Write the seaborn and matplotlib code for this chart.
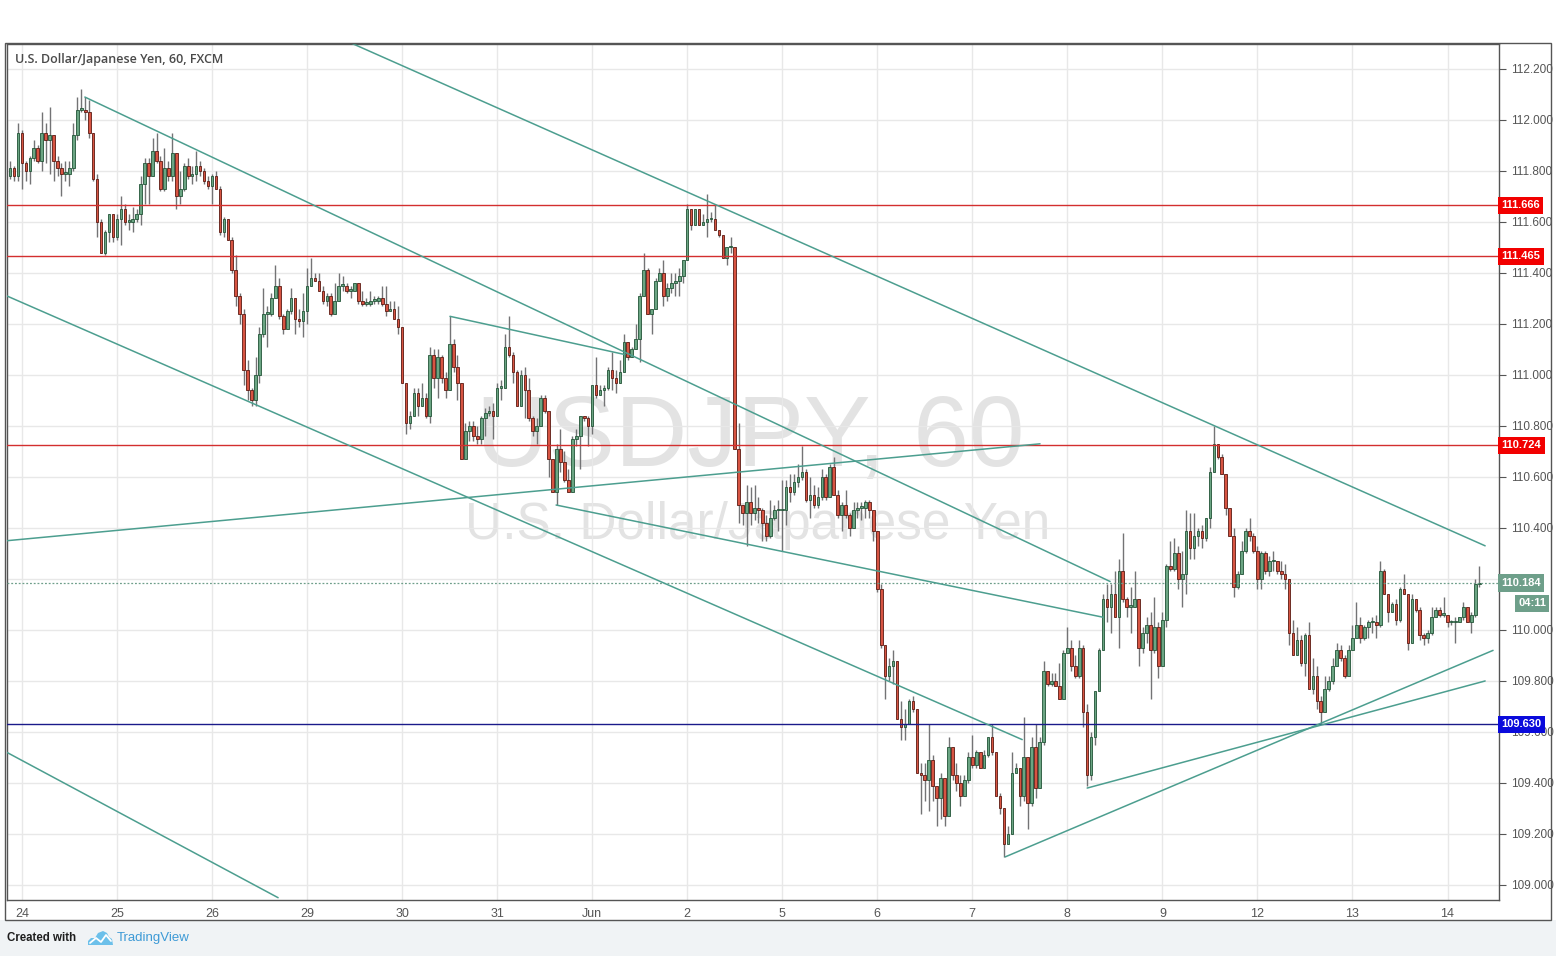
import matplotlib
matplotlib.use("Agg")
import matplotlib.pyplot as plt
import matplotlib.transforms as mtransforms
from matplotlib.patches import Rectangle, Polygon
from matplotlib.lines import Line2D
import numpy as np
import pandas as pd
import seaborn as sns

# ---- data (USDJPY, 1h candles, FXCM) ----
day_labels = ["24", "25", "26", "29", "30", "31", "Jun", "2", "5", "6", "7", "8", "9", "12", "13", "14"]
first_day_bar = 3          # bar index where the "24" session starts
bars_per_day = 24

first_open = 111.78
closes = [
    111.81, 111.78, 111.95, 111.83, 111.80, 111.85, 111.89, 111.84, 111.95, 111.92, 111.94, 111.84,
    111.81, 111.79, 111.79, 111.81, 111.94, 112.04, 112.04, 112.03, 111.95, 111.77, 111.60, 111.48,
    111.56, 111.63, 111.54, 111.61, 111.65, 111.60, 111.60, 111.61, 111.63, 111.75, 111.83, 111.78,
    111.88, 111.84, 111.73, 111.81, 111.78, 111.87, 111.70, 111.73, 111.82, 111.78, 111.79, 111.82,
    111.80, 111.76, 111.74, 111.78, 111.73, 111.56, 111.61, 111.53, 111.41, 111.31, 111.24, 111.02,
    110.94, 110.90, 111.00, 111.16, 111.24, 111.24, 111.30, 111.35, 111.23, 111.18, 111.25, 111.30,
    111.22, 111.21, 111.25, 111.35, 111.38, 111.37, 111.33, 111.29, 111.31, 111.24, 111.29, 111.35,
    111.35, 111.33, 111.33, 111.36, 111.29, 111.28, 111.28, 111.29, 111.29, 111.30, 111.28, 111.25,
    111.26, 111.22, 111.19, 110.97, 110.81, 110.84, 110.93, 110.88, 110.91, 110.84, 111.08, 110.99,
    111.07, 110.99, 110.94, 111.12, 111.03, 110.97, 110.67, 110.78, 110.80, 110.76, 110.75, 110.83,
    110.85, 110.86, 110.84, 110.95, 110.95, 111.11, 111.08, 111.01, 110.88, 111.00, 110.94, 110.83,
    110.78, 110.80, 110.91, 110.86, 110.67, 110.54, 110.71, 110.66, 110.59, 110.54, 110.75, 110.76,
    110.84, 110.83, 110.80, 110.96, 110.92, 110.94, 110.95, 111.02, 110.99, 110.97, 111.01, 111.13,
    111.07, 111.10, 111.14, 111.31, 111.41, 111.24, 111.26, 111.37, 111.40, 111.31, 111.34, 111.36,
    111.37, 111.39, 111.45, 111.65, 111.59, 111.65, 111.59, 111.60, 111.61, 111.61, 111.57, 111.55,
    111.46, 111.50, 111.50, 110.71, 110.49, 110.46, 110.50, 110.46, 110.48, 110.47, 110.42, 110.37,
    110.44, 110.47, 110.47, 110.47, 110.56, 110.54, 110.58, 110.60, 110.62, 110.51, 110.53, 110.49,
    110.52, 110.60, 110.52, 110.64, 110.53, 110.45, 110.49, 110.45, 110.40, 110.47, 110.48, 110.48,
    110.50, 110.47, 110.39, 110.16, 109.94, 109.82, 109.86, 109.88, 109.65, 109.62, 109.63, 109.72,
    109.69, 109.44, 109.43, 109.41, 109.49, 109.39, 109.34, 109.42, 109.27, 109.54, 109.43, 109.40,
    109.35, 109.41, 109.50, 109.47, 109.52, 109.46, 109.51, 109.58, 109.52, 109.35, 109.30, 109.16,
    109.20, 109.44, 109.46, 109.35, 109.50, 109.32, 109.54, 109.38, 109.56, 109.84, 109.79, 109.80,
    109.78, 109.73, 109.91, 109.93, 109.86, 109.82, 109.93, 109.68, 109.43, 109.58, 109.76, 109.92,
    110.12, 110.09, 110.14, 110.05, 110.23, 110.12, 110.09, 110.09, 110.12, 109.93, 109.99, 110.02,
    109.92, 110.01, 109.86, 110.04, 110.25, 110.24, 110.30, 110.20, 110.22, 110.39, 110.32, 110.37,
    110.39, 110.36, 110.44, 110.62, 110.73, 110.68, 110.61, 110.48, 110.37, 110.17, 110.22, 110.31,
    110.39, 110.37, 110.31, 110.20, 110.30, 110.23, 110.27, 110.27, 110.23, 110.22, 110.20, 109.99,
    109.90, 109.96, 109.87, 109.98, 109.77, 109.82, 109.72, 109.68, 109.77, 109.80, 109.86, 109.92,
    109.89, 109.82, 109.92, 109.97, 110.02, 109.97, 110.01, 110.03, 110.03, 110.02, 110.23, 110.14,
    110.07, 110.10, 110.04, 110.16, 110.14, 109.95, 110.12, 110.08, 109.98, 109.97, 109.99, 110.05,
    110.08, 110.06, 110.06, 110.03, 110.03, 110.03, 110.05, 110.09, 110.03, 110.06, 110.18, 110.18,
]
highs = [
    111.84, 111.82, 111.99, 111.96, 111.84, 111.86, 111.92, 111.90, 112.03, 111.99, 112.05, 111.94,
    111.86, 111.83, 111.84, 111.84, 111.99, 112.09, 112.12, 112.09, 112.08, 111.95, 111.79, 111.61,
    111.57, 111.63, 111.63, 111.63, 111.70, 111.67, 111.63, 111.66, 111.65, 111.78, 111.85, 111.85,
    111.93, 111.95, 111.86, 111.89, 111.84, 111.95, 111.87, 111.80, 111.83, 111.85, 111.82, 111.88,
    111.84, 111.81, 111.78, 111.79, 111.80, 111.74, 111.62, 111.61, 111.54, 111.47, 111.32, 111.26,
    111.06, 110.95, 111.07, 111.19, 111.34, 111.27, 111.32, 111.43, 111.38, 111.24, 111.26, 111.34,
    111.27, 111.26, 111.32, 111.42, 111.46, 111.40, 111.40, 111.35, 111.32, 111.32, 111.36, 111.40,
    111.39, 111.36, 111.35, 111.36, 111.36, 111.33, 111.30, 111.33, 111.31, 111.31, 111.35, 111.35,
    111.29, 111.29, 111.27, 111.19, 110.97, 110.86, 110.95, 110.95, 110.97, 110.93, 111.11, 111.10,
    111.10, 111.08, 111.01, 111.23, 111.14, 111.08, 110.97, 110.81, 110.82, 110.82, 110.80, 110.84,
    110.87, 110.88, 110.89, 110.97, 110.98, 111.16, 111.23, 111.09, 111.02, 111.02, 111.03, 110.99,
    110.84, 110.83, 110.92, 110.92, 110.86, 110.67, 110.73, 110.79, 110.70, 110.63, 110.76, 110.79,
    110.84, 110.84, 110.84, 110.96, 111.07, 110.96, 110.96, 111.03, 111.09, 111.02, 111.06, 111.16,
    111.13, 111.11, 111.20, 111.32, 111.48, 111.42, 111.26, 111.38, 111.42, 111.45, 111.36, 111.40,
    111.40, 111.42, 111.45, 111.67, 111.65, 111.65, 111.65, 111.63, 111.71, 111.64, 111.67, 111.57,
    111.55, 111.50, 111.54, 111.49, 110.81, 110.49, 110.57, 110.56, 110.57, 110.52, 110.48, 110.45,
    110.51, 110.49, 110.51, 110.59, 110.59, 110.61, 110.61, 110.65, 110.72, 110.63, 110.60, 110.57,
    110.56, 110.63, 110.61, 110.65, 110.68, 110.55, 110.50, 110.55, 110.46, 110.50, 110.50, 110.50,
    110.51, 110.51, 110.47, 110.39, 110.18, 109.94, 109.89, 109.92, 109.88, 109.72, 109.69, 109.73,
    109.74, 109.69, 109.48, 109.48, 109.63, 109.51, 109.39, 109.44, 109.42, 109.58, 109.54, 109.48,
    109.43, 109.43, 109.52, 109.59, 109.53, 109.52, 109.53, 109.58, 109.63, 109.52, 109.36, 109.30,
    109.23, 109.52, 109.48, 109.46, 109.66, 109.50, 109.58, 109.63, 109.58, 109.88, 109.84, 109.83,
    109.83, 109.87, 109.92, 110.01, 109.96, 109.90, 109.96, 109.94, 109.71, 109.60, 109.76, 109.93,
    110.14, 110.18, 110.18, 110.23, 110.28, 110.38, 110.13, 110.17, 110.23, 110.12, 110.01, 110.05,
    110.07, 110.13, 110.03, 110.07, 110.26, 110.35, 110.36, 110.33, 110.31, 110.47, 110.46, 110.46,
    110.40, 110.41, 110.44, 110.64, 110.80, 110.73, 110.69, 110.61, 110.48, 110.40, 110.23, 110.35,
    110.40, 110.44, 110.38, 110.33, 110.31, 110.31, 110.29, 110.31, 110.27, 110.27, 110.26, 110.20,
    110.04, 110.01, 109.98, 109.99, 110.03, 109.89, 109.86, 109.74, 109.82, 109.82, 109.89, 109.95,
    109.94, 109.90, 109.94, 110.02, 110.11, 110.05, 110.02, 110.04, 110.05, 110.06, 110.27, 110.24,
    110.14, 110.11, 110.12, 110.17, 110.22, 110.14, 110.14, 110.12, 110.09, 109.99, 110.00, 110.09,
    110.09, 110.09, 110.13, 110.06, 110.04, 110.05, 110.05, 110.11, 110.09, 110.07, 110.20, 110.25,
]
lows = [
    111.77, 111.76, 111.76, 111.73, 111.76, 111.75, 111.84, 111.83, 111.80, 111.83, 111.79, 111.76,
    111.78, 111.70, 111.76, 111.74, 111.80, 111.92, 112.03, 112.00, 111.93, 111.76, 111.54, 111.48,
    111.47, 111.52, 111.52, 111.53, 111.51, 111.59, 111.57, 111.56, 111.60, 111.59, 111.67, 111.67,
    111.78, 111.83, 111.72, 111.72, 111.76, 111.76, 111.65, 111.67, 111.72, 111.77, 111.75, 111.76,
    111.78, 111.75, 111.73, 111.67, 111.73, 111.55, 111.54, 111.53, 111.40, 111.27, 111.20, 110.96,
    110.90, 110.88, 110.88, 110.97, 111.15, 111.11, 111.23, 111.30, 111.22, 111.16, 111.18, 111.24,
    111.16, 111.19, 111.15, 111.20, 111.35, 111.37, 111.33, 111.28, 111.27, 111.23, 111.24, 111.29,
    111.33, 111.32, 111.30, 111.33, 111.28, 111.27, 111.27, 111.27, 111.28, 111.28, 111.27, 111.23,
    111.25, 111.22, 111.16, 110.97, 110.77, 110.79, 110.84, 110.84, 110.88, 110.83, 110.81, 110.95,
    110.91, 110.97, 110.91, 110.94, 111.01, 110.90, 110.67, 110.67, 110.74, 110.74, 110.73, 110.73,
    110.76, 110.84, 110.75, 110.84, 110.90, 110.95, 111.07, 110.97, 110.88, 110.88, 110.83, 110.82,
    110.76, 110.73, 110.80, 110.85, 110.60, 110.54, 110.49, 110.62, 110.58, 110.54, 110.54, 110.72,
    110.63, 110.82, 110.72, 110.77, 110.91, 110.92, 110.88, 110.94, 110.94, 110.93, 110.97, 111.01,
    111.06, 111.07, 111.10, 111.05, 111.31, 111.24, 111.16, 111.26, 111.37, 111.27, 111.29, 111.32,
    111.31, 111.31, 111.36, 111.45, 111.57, 111.59, 111.59, 111.59, 111.54, 111.60, 111.57, 111.54,
    111.46, 111.43, 111.48, 110.71, 110.42, 110.41, 110.33, 110.41, 110.43, 110.42, 110.35, 110.35,
    110.36, 110.43, 110.39, 110.31, 110.41, 110.50, 110.53, 110.56, 110.59, 110.50, 110.44, 110.48,
    110.48, 110.51, 110.51, 110.52, 110.53, 110.44, 110.39, 110.44, 110.37, 110.40, 110.44, 110.43,
    110.44, 110.44, 110.35, 110.15, 109.93, 109.73, 109.80, 109.79, 109.65, 109.57, 109.57, 109.63,
    109.68, 109.44, 109.28, 109.33, 109.29, 109.33, 109.23, 109.26, 109.23, 109.27, 109.41, 109.37,
    109.31, 109.35, 109.40, 109.46, 109.46, 109.46, 109.46, 109.50, 109.51, 109.35, 109.28, 109.11,
    109.16, 109.20, 109.44, 109.31, 109.33, 109.22, 109.31, 109.34, 109.38, 109.55, 109.78, 109.78,
    109.78, 109.73, 109.73, 109.91, 109.84, 109.81, 109.81, 109.62, 109.39, 109.41, 109.55, 109.76,
    109.92, 110.03, 109.99, 110.05, 109.93, 110.11, 110.05, 109.99, 110.09, 109.86, 109.91, 109.95,
    109.73, 109.91, 109.81, 109.86, 110.01, 110.23, 110.23, 110.16, 110.09, 110.14, 110.28, 110.28,
    110.33, 110.32, 110.35, 110.40, 110.62, 110.67, 110.61, 110.45, 110.37, 110.13, 110.16, 110.22,
    110.30, 110.35, 110.30, 110.16, 110.16, 110.22, 110.21, 110.23, 110.22, 110.20, 110.16, 109.94,
    109.90, 109.90, 109.86, 109.82, 109.77, 109.75, 109.69, 109.63, 109.68, 109.76, 109.79, 109.86,
    109.88, 109.81, 109.82, 109.92, 109.97, 109.95, 109.96, 109.97, 109.99, 109.97, 110.01, 110.14,
    110.03, 110.07, 110.02, 110.03, 110.14, 109.92, 109.95, 110.07, 109.96, 109.94, 109.95, 109.98,
    110.05, 110.05, 110.05, 110.01, 110.02, 109.95, 110.03, 110.04, 110.03, 109.99, 110.05, 110.17,
]

red_levels = [111.666, 111.465, 110.724]
blue_level = 109.630
last_price = 110.184
bar_countdown = "04:11"
hidden_ticks = [110.2]     # covered by the last-price tag on the scale

# drawn trend lines: (start bar, start price, end bar, end price)
trend_lines = {
    "upper channel": (86.4, 112.30, 372.5, 110.33),
    "mid channel": (18.9, 112.09, 277.8, 110.19),
    "lower channel": (-0.8, 111.31, 255.6, 109.57),
    "outer channel": (-0.8, 109.52, 67.7, 108.95),
    "rising support": (-0.8, 110.35, 260.1, 110.73),
    "short top": (111.1, 111.23, 155.3, 111.08),
    "falling base": (137.9, 110.49, 276.0, 110.05),
    "support from 7th": (251.3, 109.11, 374.5, 109.92),
    "support from 8th": (272.0, 109.38, 372.5, 109.80),
}

# ---- figure ----
sns.set_style("white")
plt.rcParams["font.family"] = ["Liberation Sans", "DejaVu Sans"]

W, H = 1556, 956
fig = plt.figure(figsize=(W / 100, H / 100), dpi=100, facecolor="white")
ax = fig.add_axes([7 / W, 1 - 900 / H, (1499 - 7) / W, (900 - 44) / H])

# page background below the chart and outer frame
fig.patches.append(Rectangle((0, 0), 1, 1 - 920 / H, transform=fig.transFigure,
                             fc="#F0F3F5", ec="none", zorder=-5))
fig.patches.append(Rectangle((5 / W, 1 - 920 / H), (1551 - 5) / W, (920 - 43) / H,
                             transform=fig.transFigure, fill=False, ec="#555555", lw=1.0, zorder=5))

c = np.array(closes)
o = np.r_[first_open, c[:-1]]
hi = np.maximum(np.array(highs), np.maximum(o, c))
lo = np.minimum(np.array(lows), np.minimum(o, c))
idx = np.arange(len(c))
up = c >= o

# watermark
ax.text(0.498, 0.537, "USDJPY, 60", transform=ax.transAxes, ha="center", va="center",
        fontsize=72, color="#E3E3E3", zorder=0)
ax.text(0.503, 0.438, "U.S. Dollar/Japanese Yen", transform=ax.transAxes, ha="center",
        va="center", fontsize=37, color="#E3E3E3", zorder=0)

# candles
ax.vlines(idx, lo, hi, color="#737375", lw=1.0, zorder=2)
ax.bar(idx, np.maximum(np.abs(c - o), 0.006), bottom=np.minimum(o, c), width=0.66,
       color=np.where(up, "#6BA583", "#D75442"), edgecolor=np.where(up, "#225437", "#5B1A13"),
       linewidth=0.6, zorder=3)

# horizontal levels
for lvl in red_levels:
    ax.axhline(lvl, color="#D32F2F", lw=1.0, zorder=4)
ax.axhline(blue_level, color="#1A1A8A", lw=1.0, zorder=4)
ax.axhline(last_price, color="#6E9F8A", lw=0.9, ls=(0, (1.5, 1.5)), zorder=4)

# trend lines
rows = []
for name, (i0, p0, i1, p1) in trend_lines.items():
    rows.append({"line": name, "bar": i0, "price": p0})
    rows.append({"line": name, "bar": i1, "price": p1})
tl = pd.DataFrame(rows)
sns.lineplot(data=tl, x="bar", y="price", units="line", estimator=None, color="#4C9E8F",
             lw=1.1, ax=ax, zorder=5, legend=False)

# axes
ax.set_xlim(-0.76, 376.0)
ax.set_ylim(108.941, 112.298)
day_ticks = [first_day_bar + bars_per_day * k for k in range(len(day_labels))]
ax.set_xticks(day_ticks)
ax.set_xticklabels(day_labels, fontfamily=["Liberation Sans Narrow", "Liberation Sans", "DejaVu Sans"])
yt = np.round(np.arange(109.0, 112.21, 0.2), 1)
ax.set_yticks(yt)
ax.set_yticklabels(["" if v in hidden_ticks else f"{v:.3f}" for v in yt])
ax.yaxis.tick_right()
ax.tick_params(axis="y", length=5, width=0.8, color="#555555", labelsize=8.5,
               labelcolor="#555555", pad=4)
ax.tick_params(axis="x", length=4, width=0.8, color="#555555", labelsize=9,
               labelcolor="#555555", pad=2)
ax.grid(True, color="#E8E8E8", lw=1.0, zorder=0)
ax.set_axisbelow(True)
ax.set_xlabel("")
ax.set_ylabel("")
for sp in ax.spines.values():
    sp.set_color("#555555")
    sp.set_linewidth(1.0)

# price tags on the right scale
trans = mtransforms.blended_transform_factory(ax.transAxes, ax.transData)
tags = [(lvl, "#F20000") for lvl in red_levels] + [(blue_level, "#0A0ADC"), (last_price, "#6E9F8A")]
for lvl, col in tags:
    ax.text(1.0015, lvl, f"{lvl:.3f}", transform=trans, ha="left", va="center", color="white",
            fontsize=8, fontweight="bold", zorder=10, clip_on=False,
            bbox=dict(boxstyle="square,pad=0.32", fc=col, ec="none"))
cd_trans = mtransforms.offset_copy(trans, fig=fig, x=0, y=-14.5, units="points")
ax.text(1.0315, last_price, bar_countdown, transform=cd_trans, ha="right", va="center",
        color="white", fontsize=8, fontweight="bold", zorder=10, clip_on=False,
        bbox=dict(boxstyle="square,pad=0.3", fc="#6E9F8A", ec="none"))

# title
ax.text(8 / 1492, 1 - 16 / 856, "U.S. Dollar/Japanese Yen, 60, FXCM", transform=ax.transAxes,
        ha="left", va="center", fontsize=9, fontweight="semibold", color="#4A4A4A",
        fontfamily=["Open Sans", "DejaVu Sans"], zorder=10)

# footer
fig.text(7 / W, 1 - 938 / H, "Created with", ha="left", va="center", fontsize=8.3,
         fontweight="bold", color="#1E1E1E",
         fontfamily=["Liberation Sans Narrow", "Liberation Sans", "DejaVu Sans"])
cloud = [(88, 945), (88, 941), (91, 938), (95, 938), (98, 933), (103, 931), (107, 933),
         (109, 937), (112, 939), (113, 945)]
fig.patches.append(Polygon([(x / W, 1 - y / H) for x, y in cloud], closed=True,
                           transform=fig.transFigure, fc="#6CC0EA", ec="none"))
zig = [(90, 943), (96, 938), (101, 942), (106, 935), (111, 941)]
fig.lines.append(Line2D([x / W for x, _ in zig], [1 - y / H for _, y in zig],
                        transform=fig.transFigure, color="white", lw=1.3))
fig.text(117 / W, 1 - 938 / H, "TradingView", ha="left", va="center", fontsize=9.5,
         color="#3D9AD6", fontfamily=["Liberation Sans Narrow", "Liberation Sans", "DejaVu Sans"])

fig.savefig("out.png", dpi=100, facecolor=fig.get_facecolor())
